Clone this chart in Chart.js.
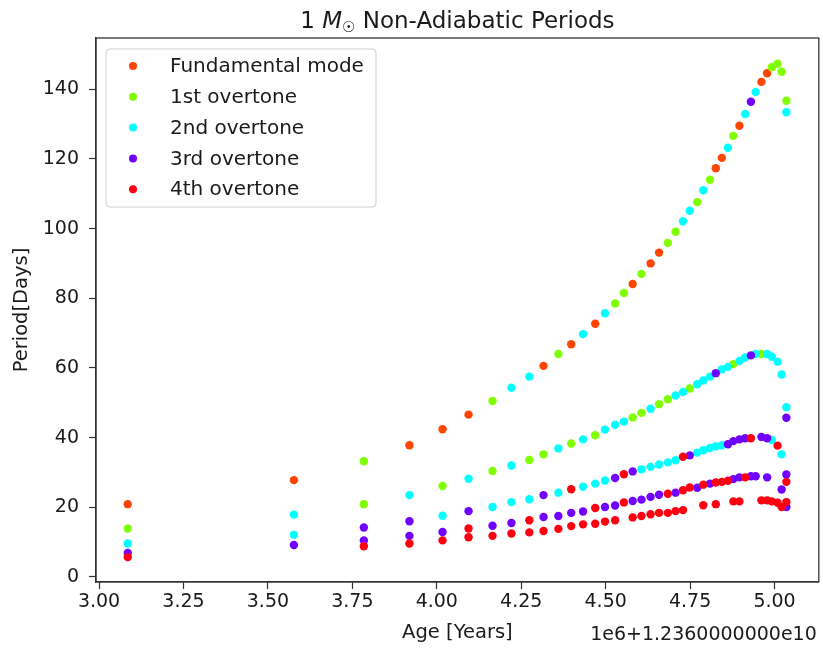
<!DOCTYPE html>
<html>
<head>
<meta charset="utf-8">
<script src="https://cdn.jsdelivr.net/npm/chart.js@4.4.1/dist/chart.umd.min.js"></script>
<style>
	body{margin:0;background:#fff;}
	#wrap{width:823px;height:650px;position:relative;}
</style>
</head>
<body>
<div id="wrap"><canvas id="periods-chart"></canvas></div>
<script>
'use strict';

const xTicks = [3.00, 3.25, 3.50, 3.75, 4.00, 4.25, 4.50, 4.75, 5.00];
const yTicks = [0, 20, 40, 60, 80, 100, 120, 140];
const modeNames = ['Fundamental mode', '1st overtone', '2nd overtone', '3rd overtone', '4th overtone'];
const modeColors = ['#ff4500', '#7fff00', '#00ffff', '#7000ff', '#ff0010'];

// ages are in units of 1e6 yr, offset by 1.236e10
const fundAge = [3.085, 3.577, 3.919, 4.017, 4.094, 4.316, 4.398, 4.469, 4.580, 4.633, 4.658, 4.826, 4.844, 4.896, 4.961, 4.978];
const fundPeriod = [20.9, 27.8, 37.8, 42.4, 46.6, 60.6, 66.8, 72.7, 84.1, 90.0, 93.1, 117.3, 120.3, 129.5, 142.1, 144.6];

const firstAge = [3.085, 3.784, 3.784, 4.017, 4.165, 4.165, 4.274, 4.316, 4.360, 4.398, 4.469, 4.528, 4.554, 4.580, 4.606, 4.606, 4.658, 4.684, 4.684, 4.707, 4.749, 4.771, 4.809, 4.878, 4.878, 4.961, 4.992, 5.009, 5.021, 5.035];
const firstPeriod = [13.9, 33.2, 20.9, 26.1, 50.5, 30.4, 33.6, 35.2, 64.0, 38.3, 40.7, 78.5, 81.5, 45.8, 87.0, 47.1, 49.6, 95.9, 51.0, 99.1, 54.1, 107.6, 114.0, 126.6, 61.1, 64.0, 146.3, 147.3, 145.0, 136.7];

const secondAge = [3.085, 3.577, 3.577, 3.919, 4.017, 4.094, 4.165, 4.221, 4.221, 4.221, 4.274, 4.274, 4.360, 4.360, 4.433, 4.433, 4.433, 4.469, 4.498, 4.498, 4.498, 4.528, 4.554, 4.606, 4.633, 4.633, 4.658, 4.684, 4.707, 4.707, 4.729, 4.729, 4.749, 4.771, 4.771, 4.789, 4.789, 4.789, 4.809, 4.809, 4.826, 4.844, 4.844, 4.862, 4.862, 4.896, 4.913, 4.913, 4.944, 4.944, 4.978, 4.992, 4.992, 5.009, 5.021, 5.021, 5.035, 5.035];
const secondPeriod = [9.6, 17.9, 12.1, 23.5, 17.6, 28.2, 20.1, 54.3, 32.0, 21.5, 57.5, 22.3, 36.9, 24.2, 69.7, 39.5, 25.9, 26.8, 75.7, 42.3, 27.7, 43.7, 44.6, 30.9, 48.3, 31.6, 32.3, 32.9, 52.1, 33.5, 102.1, 53.1, 105.1, 55.3, 35.7, 111.0, 56.4, 36.4, 57.5, 37.0, 37.5, 59.6, 37.8, 123.2, 60.3, 62.0, 132.9, 63.0, 139.2, 64.0, 64.0, 63.2, 39.3, 61.8, 58.1, 35.2, 133.4, 48.7];

const thirdAge = [3.085, 3.577, 3.784, 3.784, 3.919, 3.919, 4.017, 4.094, 4.165, 4.221, 4.316, 4.316, 4.360, 4.398, 4.433, 4.498, 4.528, 4.528, 4.580, 4.580, 4.606, 4.633, 4.658, 4.707, 4.749, 4.771, 4.809, 4.826, 4.862, 4.878, 4.878, 4.896, 4.896, 4.913, 4.930, 4.930, 4.930, 4.944, 4.961, 4.978, 4.978, 5.021, 5.035, 5.035, 5.035];
const thirdPeriod = [6.9, 9.2, 14.2, 10.5, 16.0, 11.8, 12.9, 18.9, 14.7, 15.5, 23.5, 17.2, 17.5, 18.4, 18.8, 20.1, 28.4, 20.5, 30.3, 21.8, 22.2, 23.0, 23.6, 24.2, 34.9, 25.6, 26.8, 58.5, 38.1, 39.0, 28.1, 39.5, 28.6, 39.8, 136.4, 63.6, 28.9, 28.9, 40.2, 39.8, 28.6, 25.1, 45.7, 29.4, 20.1];

const fourthAge = [3.085, 3.784, 3.919, 4.017, 4.094, 4.094, 4.165, 4.221, 4.274, 4.274, 4.316, 4.360, 4.398, 4.398, 4.433, 4.469, 4.469, 4.498, 4.528, 4.554, 4.554, 4.580, 4.606, 4.633, 4.658, 4.684, 4.684, 4.707, 4.729, 4.729, 4.729, 4.749, 4.789, 4.789, 4.826, 4.826, 4.844, 4.862, 4.878, 4.896, 4.913, 4.930, 4.961, 4.978, 4.992, 5.009, 5.009, 5.021, 5.035, 5.035];
const fourthPeriod = [5.7, 8.8, 9.6, 10.5, 13.9, 11.4, 11.8, 12.5, 16.3, 12.8, 13.2, 13.8, 25.2, 14.6, 15.1, 19.8, 15.3, 15.9, 16.3, 29.5, 21.4, 17.1, 17.5, 18.0, 18.4, 23.9, 18.4, 18.9, 34.5, 24.9, 19.2, 25.7, 26.5, 20.6, 27.1, 20.9, 27.3, 27.6, 21.7, 21.7, 28.6, 39.8, 22.0, 22.0, 21.7, 37.7, 21.3, 20.1, 27.3, 21.5];

const FONT = "'DejaVu Sans', sans-serif";
const TEXT = '#1a1a1a';

function toPoints(ages, periods){
	return ages.map((a, i) => ({x: a, y: periods[i]}));
}

const series = [
	[fundAge, fundPeriod],
	[firstAge, firstPeriod],
	[secondAge, secondPeriod],
	[thirdAge, thirdPeriod],
	[fourthAge, fourthPeriod]
];

// legend, title, frame and offset text drawn matplotlib-style
const decorations = {
	id: 'decorations',
	afterDraw(chart){
		const ctx = chart.ctx;
		const area = chart.chartArea;
		ctx.save();

		// frame
		ctx.strokeStyle = '#333';
		ctx.lineWidth = 1.3;
		ctx.strokeRect(area.left, area.top, area.right - area.left, area.bottom - area.top);

		// title: 1 M_sun Non-Adiabatic Periods
		ctx.fillStyle = TEXT;
		ctx.textBaseline = 'alphabetic';
		ctx.textAlign = 'left';
		const parts = [
			{t: '1 ', f: '23px ' + FONT, dy: 0},
			{t: 'M', f: 'italic 23px ' + FONT, dy: 0},
			{t: '\u2609', f: '15px ' + FONT, dy: 4},
			{t: ' Non-Adiabatic Periods', f: '23px ' + FONT, dy: 0}
		];
		let total = 0;
		parts.forEach(p => { ctx.font = p.f; p.w = ctx.measureText(p.t).width; total += p.w; });
		let tx = (area.left + area.right) / 2 - total / 2;
		parts.forEach(p => { ctx.font = p.f; ctx.fillText(p.t, tx, 28 + p.dy); tx += p.w; });

		// offset text
		ctx.font = '19px ' + FONT;
		ctx.textAlign = 'right';
		ctx.fillText('1e6+1.2360000000e10', area.right - 2, 640);

		// legend box
		const bx = area.left + 10, by = area.top + 11, bw = 270, bh = 158;
		ctx.beginPath();
		ctx.roundRect(bx, by, bw, bh, 4);
		ctx.fillStyle = 'rgba(255,255,255,0.8)';
		ctx.fill();
		ctx.strokeStyle = '#d0d0d0';
		ctx.lineWidth = 1;
		ctx.stroke();
		ctx.textAlign = 'left';
		ctx.textBaseline = 'middle';
		ctx.font = '20px ' + FONT;
		chart.data.datasets.forEach((ds, i) => {
			const ry = by + 17 + i * 30.8;
			ctx.beginPath();
			ctx.arc(bx + 27, ry, 4, 0, Math.PI * 2);
			ctx.fillStyle = ds.backgroundColor;
			ctx.fill();
			ctx.fillStyle = TEXT;
			ctx.fillText(ds.label, bx + 64, ry + 1);
		});
		ctx.restore();
	}
};

new Chart(document.getElementById('periods-chart'), {
	type: 'scatter',
	data: {
		datasets: series.map((s, i) => ({
			label: modeNames[i],
			data: toPoints(s[0], s[1]),
			backgroundColor: modeColors[i],
			borderWidth: 0,
			pointRadius: 4.2,
			order: 4 - i
		}))
	},
	options: {
		responsive: true,
		maintainAspectRatio: false,
		animation: false,
		events: [],
		layout: {padding: {top: 38, right: 3, left: 0, bottom: 0}},
		plugins: {
			legend: {display: false},
			title: {display: false},
			tooltip: {enabled: false}
		},
		scales: {
			x: {
				type: 'linear',
				min: 2.991,
				max: 5.131,
				afterFit(scale){ scale.height = 68; },
				afterBuildTicks(scale){ scale.ticks = xTicks.map(v => ({value: v})); },
				grid: {drawOnChartArea: false, tickLength: 7, color: '#333', tickWidth: 1.2},
				border: {color: '#333', width: 1.3},
				ticks: {
					padding: 2,
					color: TEXT,
					font: {family: FONT, size: 19},
					maxRotation: 0,
					callback: v => v.toFixed(2)
				},
				title: {
					display: true,
					text: 'Age [Years]',
					color: TEXT,
					font: {family: FONT, size: 19.5},
					padding: {top: 0, bottom: 5}
				}
			},
			y: {
				type: 'linear',
				min: -1.44,
				max: 154.7,
				afterFit(scale){ scale.width = 96; },
				afterBuildTicks(scale){ scale.ticks = yTicks.map(v => ({value: v})); },
				grid: {drawOnChartArea: false, tickLength: 7, color: '#333', tickWidth: 1.2},
				border: {color: '#333', width: 1.3},
				ticks: {
					padding: 10,
					color: TEXT,
					font: {family: FONT, size: 19},
					callback: v => String(v)
				},
				title: {
					display: true,
					text: 'Period[Days]',
					color: TEXT,
					font: {family: FONT, size: 19.5},
					padding: {top: 10, bottom: 0}
				}
			}
		}
	},
	plugins: [decorations]
});
</script>
</body>
</html>
